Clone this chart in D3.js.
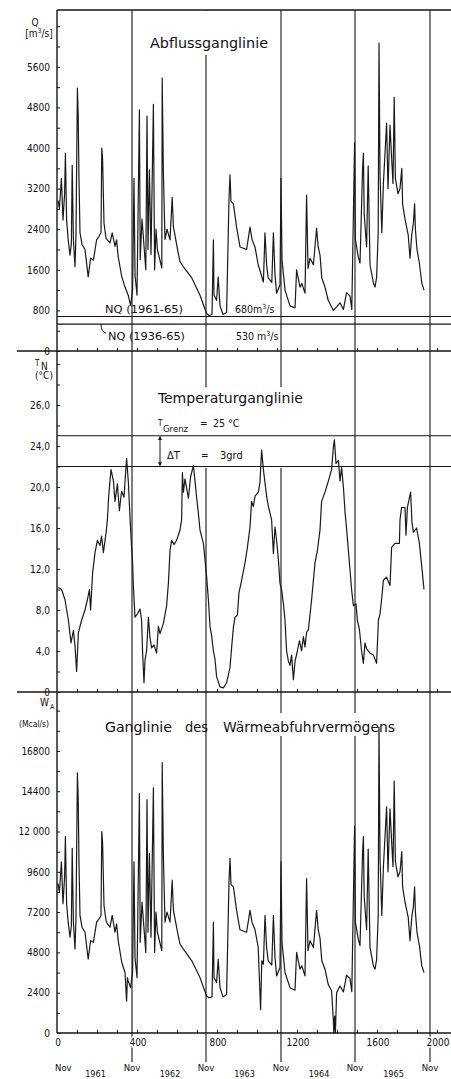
<!DOCTYPE html>
<html>
<head>
<meta charset="utf-8">
<script src="https://cdn.jsdelivr.net/npm/d3@7"></script>
<style>
body { margin: 0; background: #fff; }
svg { display: block; }
text { font-family: "DejaVu Sans Condensed", "DejaVu Sans", sans-serif; fill: #111; }
</style>
</head>
<body>
<script>
const width = 451;
const height = 1079;

// day index of the November marks, and the years between them
const novDays = [0, 375, 745, 1120, 1490, 1865];
const years = ["1961", "1962", "1963", "1964", "1965"];
const xLabelValues = [0, 400, 800, 1200, 1600, 2000];

// Abfluss Q [m3/s]
const qLabelValues = [0, 800, 1600, 2400, 3200, 4000, 4800, 5600];
const nqValues = [680, 530];
const qData = [[5,2970],[12,2810],[22,3400],[30,2580],[38,3100],[42,3900],[48,2580],[56,2190],[65,1890],[72,2120],[76,3660],[82,2200],[90,1660],[95,2300],[102,5180],[106,4650],[110,3370],[115,2330],[125,2100],[140,2000],[156,1460],[168,1830],[182,1790],[198,2190],[210,2260],[220,2330],[224,4000],[228,3780],[235,2520],[245,2220],[252,2190],[265,2130],[276,2330],[290,2060],[298,2190],[306,1860],[324,1460],[340,1260],[356,1100],[368,900],[378,1200],[385,3400],[390,1500],[400,1100],[412,4750],[416,1800],[425,2600],[444,1600],[450,4630],[455,2000],[462,3570],[470,1900],[482,4860],[488,1600],[495,2400],[502,2000],[524,1635],[526,5380],[532,3500],[540,2200],[550,2400],[565,2190],[576,3030],[582,2450],[606,1930],[615,1760],[632,1660],[674,1440],[715,1100],[748,740],[760,700],[775,720],[782,2190],[785,1100],[798,1000],[806,1460],[815,890],[830,720],[848,760],[860,3000],[865,3470],[870,2950],[882,2900],[898,2440],[915,2050],[948,2000],[965,2440],[975,2200],[990,2050],[1006,1700],[1032,1360],[1040,2330],[1048,1700],[1056,1440],[1074,1350],[1082,2330],[1090,1500],[1098,1140],[1115,1300],[1120,3400],[1125,1800],[1140,1200],[1165,890],[1190,850],[1198,1600],[1215,1260],[1224,1330],[1240,1140],[1248,3070],[1255,1630],[1265,1830],[1282,1700],[1298,2420],[1306,2050],[1315,1890],[1324,1440],[1340,1260],[1356,1000],[1382,800],[1398,870],[1415,950],[1432,820],[1448,1150],[1465,1080],[1474,820],[1484,3170],[1488,4100],[1492,2200],[1506,1860],[1515,1730],[1528,3600],[1532,3900],[1536,2700],[1548,2050],[1556,3650],[1565,1700],[1582,1340],[1590,1260],[1598,1450],[1606,2330],[1610,6070],[1615,3500],[1624,2330],[1632,3300],[1648,4490],[1655,3200],[1665,4450],[1674,3730],[1680,3300],[1686,5000],[1692,3400],[1705,3100],[1715,3200],[1724,3600],[1728,2900],[1740,2600],[1756,2290],[1765,1830],[1774,2300],[1782,2520],[1788,2900],[1792,2400],[1800,2000],[1812,1730],[1824,1340],[1835,1200]];

// Temperatur T_N [°C]
const tLabelValues = [0, 4, 8, 12, 16, 20, 24, 28];
const tLabels = ["0", "4,0", "8,0", "12,0", "16,0", "20,0", "24,0", "26,0"];
const tGrenz = 25;
const tDelta = 3;
const tData = [[7,10.2],[23,10.0],[40,9.0],[57,7.0],[70,4.8],[82,6.0],[90,4.5],[98,2.0],[107,5.8],[123,7.0],[140,8.0],[152,9.0],[162,10.0],[168,8.0],[178,11.6],[190,13.6],[202,14.8],[215,14.3],[223,15.2],[232,13.6],[245,15.5],[252,16.8],[258,19.0],[270,21.7],[282,20.6],[290,18.6],[302,20.3],[312,17.7],[323,19.6],[335,19.0],[348,22.8],[357,20.4],[365,17.0],[373,14.1],[378,12.6],[382,10.3],[390,7.3],[402,7.6],[415,8.1],[423,7.0],[428,3.8],[435,0.9],[440,3.1],[448,4.0],[457,7.3],[465,5.3],[473,4.3],[485,4.6],[498,3.8],[507,6.4],[515,5.7],[532,6.7],[548,8.4],[557,10.6],[565,13.8],[573,14.8],[585,14.4],[598,14.8],[615,15.8],[623,16.8],[627,21.4],[632,19.5],[640,20.8],[657,18.9],[668,21.0],[682,22.1],[690,20.6],[698,19.0],[707,17.4],[715,15.8],[732,14.5],[748,11.3],[757,9.0],[765,6.4],[773,5.5],[782,4.0],[790,3.2],[798,1.5],[815,0.5],[832,0.4],[848,0.9],[865,2.4],[873,4.3],[882,6.3],[890,7.3],[902,7.5],[910,9.7],[923,10.9],[940,12.6],[952,14.1],[965,16.1],[973,18.6],[982,18.1],[990,19.1],[1007,19.5],[1015,20.5],[1023,23.6],[1032,21.7],[1048,19.1],[1057,18.1],[1073,16.8],[1082,13.5],[1090,16.1],[1098,14.8],[1107,12.9],[1115,10.6],[1123,10.0],[1132,8.6],[1140,7.0],[1148,4.0],[1157,3.0],[1165,2.6],[1173,3.6],[1182,1.2],[1190,3.0],[1202,4.0],[1212,5.0],[1223,4.0],[1232,5.4],[1240,4.4],[1248,5.8],[1257,6.1],[1273,9.0],[1290,12.6],[1302,13.8],[1315,15.8],[1323,18.6],[1340,19.5],[1357,20.6],[1373,21.7],[1382,23.9],[1387,24.6],[1395,22.3],[1407,22.6],[1415,20.6],[1423,21.9],[1432,20.0],[1440,17.6],[1448,15.9],[1465,11.9],[1473,10.0],[1482,8.4],[1495,8.6],[1502,7.0],[1512,6.1],[1523,4.0],[1532,2.8],[1540,4.8],[1548,4.2],[1565,3.8],[1582,3.6],[1598,2.8],[1607,7.0],[1615,7.6],[1623,9.0],[1632,10.9],[1648,11.2],[1665,10.4],[1673,14.1],[1690,14.5],[1712,14.5],[1715,16.8],[1723,18.0],[1740,18.0],[1745,15.3],[1752,18.0],[1768,19.5],[1775,16.5],[1782,15.6],[1798,16.0],[1812,14.5],[1823,12.4],[1835,10.0]];

// Wärmeabfuhrvermögen W_A [Mcal/s]
const wLabelValues = [0, 2400, 4800, 7200, 9600, 12000, 14400, 16800];
const wLabels = ["0", "2400", "4800", "7200", "9600", "12 000", "14400", "16800"];
const wData = [[5,8900],[12,8400],[22,10200],[30,7700],[38,9300],[42,11700],[48,7700],[56,6600],[65,5700],[72,6400],[76,11000],[82,6600],[90,5000],[95,6900],[102,15500],[106,14000],[110,10100],[115,7000],[125,6300],[140,6000],[156,4400],[168,5500],[182,5400],[198,6600],[210,6800],[220,7000],[224,12000],[228,11300],[235,7600],[245,6700],[252,6500],[265,6300],[276,7000],[290,6000],[298,6500],[306,5500],[324,4200],[340,3600],[348,1900],[352,3300],[356,3100],[368,2700],[378,3600],[385,10200],[390,4500],[400,3300],[412,14250],[416,5400],[425,7800],[444,4800],[450,13900],[455,6000],[462,10700],[470,5700],[482,14600],[488,4800],[495,7200],[502,6000],[524,4900],[526,16100],[532,10500],[540,6600],[550,7200],[565,6600],[576,9100],[582,7300],[606,5800],[615,5300],[632,5000],[674,4300],[715,3300],[748,2200],[760,2100],[775,2150],[782,6600],[785,3300],[798,3000],[806,4400],[815,2700],[830,2150],[848,2300],[860,9000],[865,10400],[870,8850],[882,8700],[898,7300],[915,6150],[948,6000],[965,7300],[975,6600],[990,6150],[1006,5100],[1018,1400],[1024,4300],[1032,4100],[1040,7000],[1048,5100],[1056,4300],[1074,4050],[1082,7000],[1090,4500],[1098,3400],[1115,3900],[1120,10200],[1125,5400],[1140,3600],[1165,2700],[1190,2550],[1198,4800],[1215,3800],[1224,4000],[1240,3400],[1248,9200],[1255,4900],[1265,5500],[1282,5100],[1298,7300],[1306,6150],[1315,5650],[1324,4300],[1340,3800],[1356,2900],[1373,2500],[1382,700],[1384,0],[1388,1000],[1392,0],[1398,2400],[1415,2800],[1432,2450],[1448,3450],[1465,3240],[1474,2460],[1484,9500],[1488,12300],[1492,6600],[1506,5600],[1515,5200],[1528,10800],[1532,11700],[1536,8100],[1548,6150],[1556,10950],[1565,5100],[1582,4000],[1590,3800],[1598,4350],[1606,7000],[1610,18200],[1615,10500],[1624,7000],[1632,9900],[1648,13470],[1655,9600],[1665,13350],[1674,11200],[1680,9900],[1686,15000],[1692,10200],[1705,9300],[1715,9600],[1724,10800],[1728,8700],[1740,7800],[1756,6900],[1765,5500],[1774,6900],[1782,7560],[1788,8700],[1792,7200],[1800,6000],[1812,5200],[1824,4000],[1835,3600]];

const svg = d3.select("body").append("svg")
  .attr("width", width)
  .attr("height", height);

// scales
const x = d3.scaleLinear().domain([0, 1970]).range([57, 451]);
const yQ = d3.scaleLinear().domain([0, 6720]).range([351, 10]);
const yT = d3.scaleLinear().domain([0, 33.17]).range([692, 352]);
const yW = d3.scaleLinear().domain([0, 20308]).range([1033, 692]);

const ink = "#151515";

// November lines through all panels
svg.append("g")
  .selectAll("line")
  .data(novDays.slice(1))
  .enter()
  .append("line")
  .attr("x1", d => x(d)).attr("x2", d => x(d))
  .attr("y1", 10).attr("y2", 1062)
  .attr("stroke", ink).attr("stroke-width", 1.1);

// white boxes where the titles interrupt the lines
svg.append("rect").attr("x", 147).attr("y", 11).attr("width", 124).attr("height", 44).attr("fill", "#fff");
svg.append("rect").attr("x", 155).attr("y", 387).attr("width", 157).attr("height", 81).attr("fill", "#fff");
svg.append("rect").attr("x", 221).attr("y", 713).attr("width", 177).attr("height", 23).attr("fill", "#fff");

// frame lines
svg.append("line").attr("x1", 57).attr("x2", 451).attr("y1", 10).attr("y2", 10)
  .attr("stroke", ink).attr("stroke-width", 1.6);
svg.append("line").attr("x1", 57).attr("x2", 57).attr("y1", 10).attr("y2", 1033)
  .attr("stroke", ink).attr("stroke-width", 1.4);
[[351, 17], [692, 17], [1033, 57]].forEach(function(p) {
  svg.append("line").attr("x1", p[1]).attr("x2", 451).attr("y1", p[0]).attr("y2", p[0])
    .attr("stroke", ink).attr("stroke-width", 1.6);
});

// small x ticks on each panel base
[351, 692, 1033].forEach(function(yy) {
  const g = svg.append("g")
    .attr("transform", "translate(0," + yy + ")")
    .call(d3.axisBottom(x).tickValues(d3.range(100, 1901, 100)).tickSize(-3).tickSizeOuter(0).tickFormat(""));
  g.select(".domain").remove();
  g.selectAll("line").attr("stroke", ink);
});

// y axes
function yAxis(scale, step, labelVals, labels, maxTick) {
  const g = svg.append("g")
    .attr("transform", "translate(57,0)")
    .call(d3.axisLeft(scale)
      .tickValues(d3.range(0, maxTick + 1, step))
      .tickSize(-3)
      .tickSizeOuter(0)
      .tickPadding(7)
      .tickFormat(function(d) {
        const i = labelVals.indexOf(d);
        return i < 0 ? "" : labels[i];
      }));
  g.select(".domain").remove();
  g.selectAll("line").attr("stroke", ink);
  g.selectAll("text").style("font-size", "10px").attr("fill", ink)
    .style("font-family", "'DejaVu Sans Condensed','DejaVu Sans',sans-serif");
  return g;
}
yAxis(yQ, 400, qLabelValues, qLabelValues.map(String), 6400);
yAxis(yT, 2, tLabelValues, tLabels, 32);
yAxis(yW, 1200, wLabelValues, wLabels, 19200);

// unit labels
svg.append("text").attr("x", 35).attr("y", 26).attr("text-anchor", "middle").style("font-size", "10px").text("Q");
const q2 = svg.append("text").attr("x", 39).attr("y", 37).attr("text-anchor", "middle").style("font-size", "10px");
q2.append("tspan").text("[m");
q2.append("tspan").attr("dy", -4).style("font-size", "7px").text("3");
q2.append("tspan").attr("dy", 4).text("/s]");

svg.append("text").attr("x", 35).attr("y", 366).style("font-size", "8px").text("T");
svg.append("text").attr("x", 41).attr("y", 370).style("font-size", "10px").text("N");
svg.append("text").attr("x", 44).attr("y", 379).attr("text-anchor", "middle").style("font-size", "10px").text("(°C)");

svg.append("text").attr("x", 40).attr("y", 706).style("font-size", "10px").text("W");
svg.append("text").attr("x", 50).attr("y", 709).style("font-size", "7px").text("A");
svg.append("text").attr("x", 34).attr("y", 727).attr("text-anchor", "middle").style("font-size", "8.5px").text("(Mcal/s)");

// titles
svg.append("text").attr("x", 150).attr("y", 48).attr("textLength", 118).attr("lengthAdjust", "spacingAndGlyphs")
  .style("font-size", "14px").text("Abflussganglinie");
svg.append("text").attr("x", 158).attr("y", 403).attr("textLength", 145).attr("lengthAdjust", "spacingAndGlyphs")
  .style("font-size", "14px").text("Temperaturganglinie");
svg.append("text").attr("x", 105).attr("y", 732).attr("textLength", 67).attr("lengthAdjust", "spacingAndGlyphs")
  .style("font-size", "14px").text("Ganglinie");
svg.append("text").attr("x", 185).attr("y", 732).attr("textLength", 23).attr("lengthAdjust", "spacingAndGlyphs")
  .style("font-size", "14px").text("des");
svg.append("text").attr("x", 223).attr("y", 732).attr("textLength", 172).attr("lengthAdjust", "spacingAndGlyphs")
  .style("font-size", "14px").text("Wärmeabfuhrvermögens");

// NQ lines
svg.append("g")
  .selectAll("line")
  .data(nqValues)
  .enter()
  .append("line")
  .attr("x1", 57).attr("x2", 451)
  .attr("y1", d => yQ(d)).attr("y2", d => yQ(d))
  .attr("stroke", ink).attr("stroke-width", 1.1);

svg.append("text").attr("x", 105).attr("y", 313).attr("textLength", 78).attr("lengthAdjust", "spacingAndGlyphs")
  .style("font-size", "10.5px").text("NQ (1961-65)");
const t680 = svg.append("text").attr("x", 235).attr("y", 313).style("font-size", "10.5px");
t680.append("tspan").text("680m");
t680.append("tspan").attr("dy", -4).style("font-size", "7px").text("3");
t680.append("tspan").attr("dy", 4).text("/s");
svg.append("path")
  .attr("d", "M101," + yQ(nqValues[1]) + " q0,8 5,9")
  .attr("fill", "none").attr("stroke", ink).attr("stroke-width", 1);
svg.append("text").attr("x", 108).attr("y", 340).attr("textLength", 77).attr("lengthAdjust", "spacingAndGlyphs")
  .style("font-size", "10.5px").text("NQ (1936-65)");
const t530 = svg.append("text").attr("x", 236).attr("y", 340).style("font-size", "10.5px");
t530.append("tspan").text("530 m");
t530.append("tspan").attr("dy", -4).style("font-size", "7px").text("3");
t530.append("tspan").attr("dy", 4).text("/s");

// temperature limit lines
[tGrenz, tGrenz - tDelta].forEach(function(v) {
  svg.append("line").attr("x1", 57).attr("x2", 451).attr("y1", yT(v)).attr("y2", yT(v))
    .attr("stroke", ink).attr("stroke-width", 1.2);
});
svg.append("defs").append("marker")
  .attr("id", "ah").attr("viewBox", "0 0 6 6").attr("refX", 5).attr("refY", 3)
  .attr("markerWidth", 4).attr("markerHeight", 4).attr("orient", "auto-start-reverse")
  .append("path").attr("d", "M0,0 L6,3 L0,6 Z").attr("fill", ink);
svg.append("line").attr("x1", 160).attr("x2", 160)
  .attr("y1", yT(tGrenz) + 1).attr("y2", yT(tGrenz - tDelta) - 1)
  .attr("stroke", ink).attr("stroke-width", 1)
  .attr("marker-start", "url(#ah)").attr("marker-end", "url(#ah)");

svg.append("text").attr("x", 158).attr("y", 426).style("font-size", "8px").text("T");
svg.append("text").attr("x", 163).attr("y", 432).style("font-size", "9.5px").text("Grenz");
svg.append("text").attr("x", 200).attr("y", 427).style("font-size", "10px").text("=");
svg.append("text").attr("x", 213).attr("y", 427).style("font-size", "10.5px").text("25 °C");
svg.append("text").attr("x", 167).attr("y", 459).style("font-size", "11px").text("ΔT");
svg.append("text").attr("x", 201).attr("y", 459).style("font-size", "10px").text("=");
svg.append("text").attr("x", 220).attr("y", 459).style("font-size", "11px").text("3grd");

// data lines
function drawSeries(data, yScale) {
  svg.append("path")
    .datum(data)
    .attr("fill", "none")
    .attr("stroke", "#1a1a1a")
    .attr("stroke-width", 1.2)
    .attr("stroke-linejoin", "round")
    .attr("d", d3.line().x(d => x(d[0])).y(d => yScale(d[1])));
}
drawSeries(qData, yQ);
drawSeries(tData, yT);
drawSeries(wData, yW);

// x labels on bottom axis
svg.append("g")
  .selectAll("text")
  .data(xLabelValues)
  .enter()
  .append("text")
  .attr("x", d => d === 2000 ? x(d) - 19 : x(d) + 1)
  .attr("y", 1046)
  .attr("text-anchor", "middle")
  .style("font-size", "10px")
  .style("paint-order", "stroke")
  .attr("stroke", "#fff").attr("stroke-width", 3)
  .text(d => d);

// Nov labels and years
svg.append("g")
  .selectAll("text")
  .data(novDays)
  .enter()
  .append("text")
  .attr("x", d => d === 0 ? x(d) - 2 : x(d))
  .attr("y", 1071)
  .attr("text-anchor", d => d === 0 ? "start" : "middle")
  .style("font-size", "9.5px")
  .text("Nov");

svg.append("g")
  .selectAll("text")
  .data(years)
  .enter()
  .append("text")
  .attr("x", (d, i) => (x(novDays[i]) + x(novDays[i + 1])) / 2 + 1)
  .attr("y", 1077)
  .attr("text-anchor", "middle")
  .style("font-size", "9px")
  .text(d => d);
</script>
</body>
</html>
